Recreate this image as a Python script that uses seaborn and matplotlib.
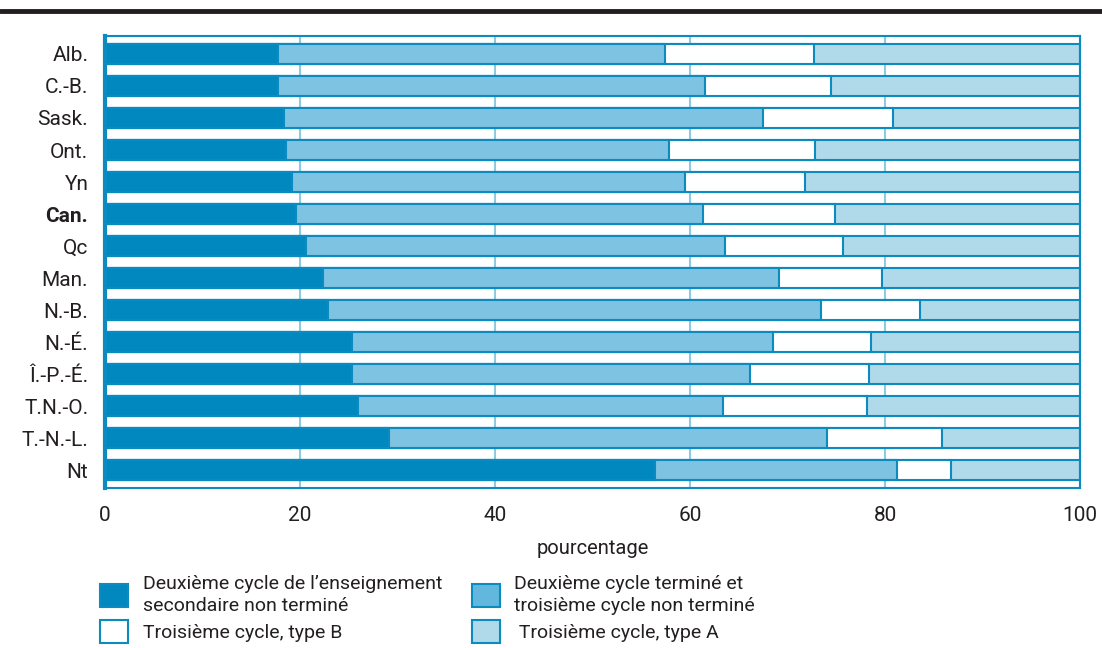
import numpy as np
import pandas as pd
import seaborn as sns
import matplotlib.pyplot as plt
from matplotlib.patches import Patch
from matplotlib.lines import Line2D

# Data (percentages, cumulative boundaries converted to shares)
regions = ["Alb.", "C.-B.", "Sask.", "Ont.", "Yn", "Can.", "Qc", "Man.",
           "N.-B.", "N.-É.", "Î.-P.-É.", "T.N.-O.", "T.-N.-L.", "Nt"]
below_upper_sec = [17.7, 17.7, 18.4, 18.6, 19.2, 19.6, 20.6, 22.3, 22.9, 25.3, 25.3, 25.9, 29.1, 56.4]
upper_sec = [39.7, 43.8, 49.1, 39.2, 40.3, 41.7, 43.0, 46.8, 50.5, 43.2, 40.8, 37.5, 44.9, 24.8]
tertiary_b = [15.3, 12.9, 13.3, 15.0, 12.3, 13.6, 12.1, 10.6, 10.2, 10.0, 12.2, 14.7, 11.8, 5.5]
tertiary_a = [27.3, 25.6, 19.2, 27.2, 28.2, 25.1, 24.3, 20.3, 16.4, 21.5, 21.7, 21.9, 14.2, 13.3]

legend_left = ["Deuxième cycle de l\u2019enseignement\nsecondaire non terminé",
               "Troisième cycle, type B"]
legend_right = ["Deuxième cycle terminé et\ntroisième cycle non terminé",
                " Troisième cycle, type A"]

c_dark = "#0088bf"
c_mid = "#7fc3e2"
c_white = "#ffffff"
c_light = "#b0d9ea"
c_edge = "#0b8bc0"
c_grid = "#8ccae6"
c_text = "#231f20"

df = pd.DataFrame({"region": regions,
                   "s1": below_upper_sec, "s2": upper_sec,
                   "s3": tertiary_b, "s4": tertiary_a})
df["c1"] = df["s1"]
df["c2"] = df["c1"] + df["s2"]
df["c3"] = df["c2"] + df["s3"]
df["c4"] = df["c3"] + df["s4"]

sns.set_style("white")
plt.rcParams["font.family"] = ["Roboto", "DejaVu Sans"]

fig = plt.figure(figsize=(11.02, 6.48), dpi=100)
ax = fig.add_axes([0.0953, 0.247, 0.885, 0.697])

# stacked bars: draw cumulative totals from the longest to the shortest
for col, colr in [("c4", c_light), ("c3", c_white), ("c2", c_mid), ("c1", c_dark)]:
    sns.barplot(data=df, x=col, y="region", orient="h", color=colr,
                saturation=1, width=0.62, edgecolor=c_edge, linewidth=1.5, ax=ax)

ax.set_xlim(0, 100)
ax.set_ylim(len(regions) - 0.5 + 0.05, -0.5 - 0.05)
ax.set_xticks([0, 20, 40, 60, 80, 100])
ax.set_xticklabels(["0", "20", "40", "60", "80", "100"], fontsize=15, color=c_text)
ax.tick_params(axis="x", length=0, pad=13)
ax.tick_params(axis="y", length=0, pad=12)
for lbl in ax.get_yticklabels():
    lbl.set_fontsize(15)
    lbl.set_color(c_text)
    if lbl.get_text() == "Can.":
        lbl.set_fontweight("bold")
ax.set_ylabel("")
ax.set_xlabel("pourcentage", fontsize=14.5, color=c_text, labelpad=10)

ax.grid(axis="x", color=c_grid, linewidth=1.5)
ax.grid(axis="y", visible=False)
ax.set_axisbelow(True)
for side, sp in ax.spines.items():
    sp.set_visible(True)
    sp.set_color(c_edge)
    sp.set_linewidth(1.5)
ax.spines["left"].set_linewidth(3)

# top rule
fig.add_artist(Line2D([0, 1], [0.983, 0.983], color=c_text, linewidth=3.5,
                      transform=fig.transFigure))

h_left = [Patch(facecolor=c_dark, edgecolor=c_edge, linewidth=1.5),
          Patch(facecolor=c_white, edgecolor=c_edge, linewidth=1.5)]
h_right = [Patch(facecolor="#62b8dc", edgecolor=c_edge, linewidth=1.5),
           Patch(facecolor=c_light, edgecolor=c_edge, linewidth=1.5)]
leg_kw = dict(loc="upper left", frameon=False, fontsize=14,
              handlelength=1.45, handleheight=1.45, handletextpad=0.75,
              labelspacing=0.25, borderaxespad=0, borderpad=0,
              labelcolor=c_text)
for handles, labels, x0 in [(h_left, legend_left, 0.091), (h_right, legend_right, 0.428)]:
    leg = fig.legend(handles, labels, bbox_to_anchor=(x0, 0.113), **leg_kw)
    for t in leg.get_texts():
        t.set_linespacing(1.3)

fig.savefig("out.png", dpi=100)
